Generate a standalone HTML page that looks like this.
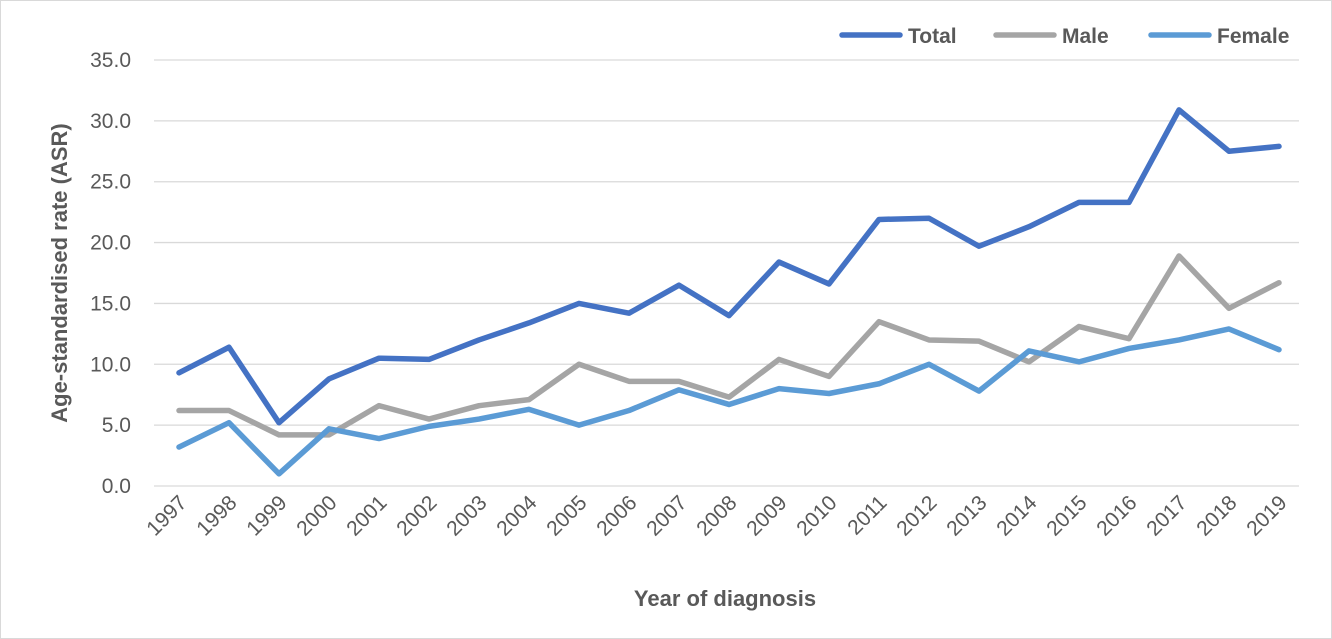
<!DOCTYPE html>
<html><head><meta charset="utf-8"><style>
body{margin:0;background:#fff}
svg{display:block;font-family:"Liberation Sans",Calibri,sans-serif}
</style></head><body>
<svg id="c" width="1332" height="639" xmlns="http://www.w3.org/2000/svg">
<rect x="0.5" y="0.5" width="1331" height="638" fill="#fff" stroke="#d9d9d9"/>
</svg>
<script>
const s=document.getElementById('c'),NS='http://www.w3.org/2000/svg';
function el(t,a,txt){const e=document.createElementNS(NS,t);for(const k in a)e.setAttribute(k,a[k]);if(txt!=null)e.textContent=txt;s.appendChild(e);return e;}
const y0=486,ppu=(486-60)/35,x0=179,dx=50;
const Y=v=>y0-v*ppu,X=i=>x0+i*dx;
for(let v=0;v<=35;v+=5){el('line',{x1:154,x2:1299,y1:Y(v),y2:Y(v),stroke:'#d9d9d9','stroke-width':1.3});
el('text',{x:131,y:Y(v)+7,'text-anchor':'end','font-size':21,fill:'#595959'},v.toFixed(1));}
for(let i=0;i<23;i++){const x=X(i)+9,y=504;
el('text',{x:x,y:y,'text-anchor':'end','font-size':21,fill:'#595959',transform:`rotate(-45 ${x} ${y})`},1997+i);}
const T=[9.3,11.4,5.2,8.8,10.5,10.4,12.0,13.4,15.0,14.2,16.5,14.0,18.4,16.6,21.9,22.0,19.7,21.3,23.3,23.3,30.9,27.5,27.9];
const M=[6.2,6.2,4.2,4.2,6.6,5.5,6.6,7.1,10.0,8.6,8.6,7.3,10.4,9.0,13.5,12.0,11.9,10.2,13.1,12.1,18.9,14.6,16.7];
const F=[3.2,5.2,1.0,4.7,3.9,4.9,5.5,6.3,5.0,6.2,7.9,6.7,8.0,7.6,8.4,10.0,7.8,11.1,10.2,11.3,12.0,12.9,11.2];
[[M,'#a5a5a5'],[F,'#5b9bd5'],[T,'#4472c4']].forEach(([d,c])=>{
el('polyline',{points:d.map((v,i)=>X(i)+','+Y(v)).join(' '),fill:'none',stroke:c,'stroke-width':5.5,'stroke-linejoin':'round','stroke-linecap':'round'});});
el('text',{x:725,y:606,'text-anchor':'middle','font-size':22,'font-weight':'bold',fill:'#595959'},'Year of diagnosis');
el('text',{x:0,y:0,'text-anchor':'middle','font-size':22,'font-weight':'bold',fill:'#595959',transform:'translate(67 273) rotate(-90)'},'Age-standardised rate  (ASR)');
[['Total','#4472c4',842],['Male','#a5a5a5',996],['Female','#5b9bd5',1151]].forEach(([t,c,x])=>{
el('line',{x1:x,x2:x+58,y1:35,y2:35,stroke:c,'stroke-width':5.5,'stroke-linecap':'round'});
el('text',{x:x+66,y:43,'font-size':21,'font-weight':'bold',fill:'#595959'},t);});
</script>
</body></html>
